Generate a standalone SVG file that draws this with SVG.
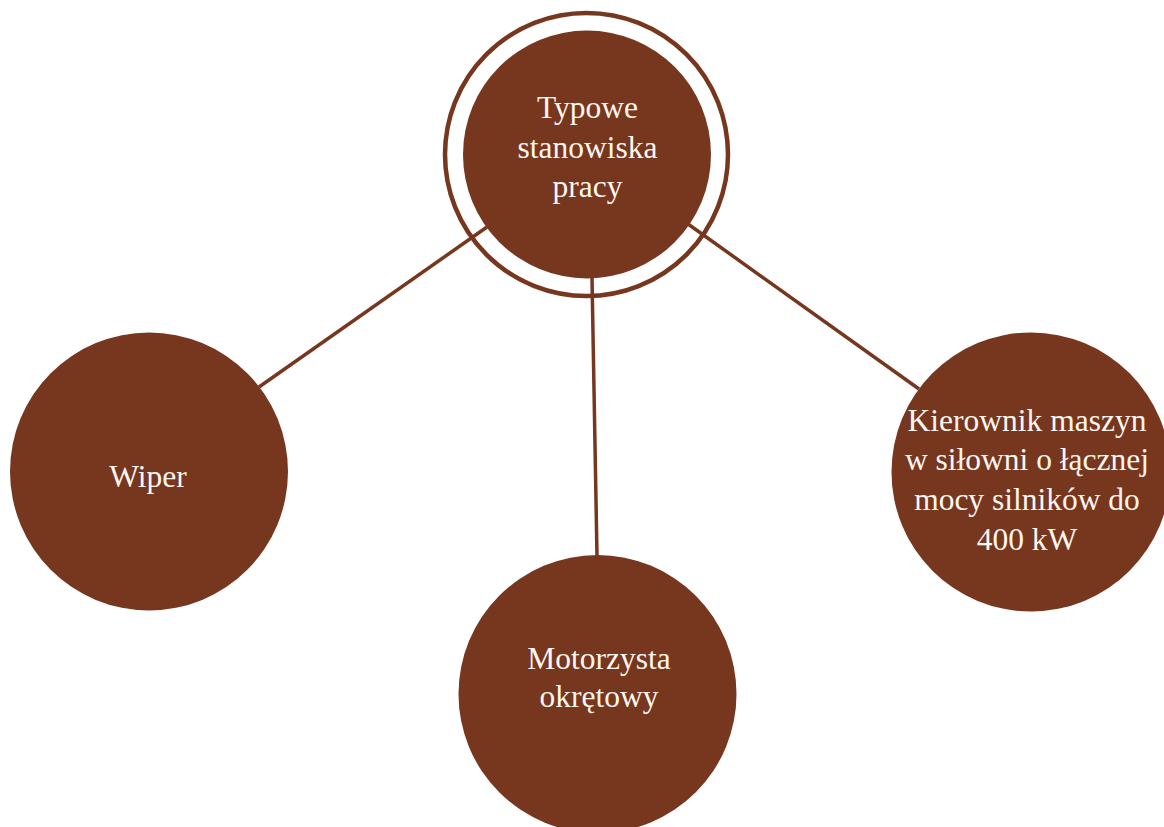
<svg xmlns="http://www.w3.org/2000/svg" width="1164" height="827" viewBox="0 0 1164 827">
<style>
.node{fill:#77361e}
.ring{fill:none;stroke:#77361e;stroke-width:4.5}
.conn{stroke:#77361e;stroke-width:3.5;fill:none}
text{font-family:"Liberation Serif","Times New Roman",serif;font-size:31.5px;fill:#fbf6f0;text-anchor:middle}
</style>
<rect width="1164" height="827" fill="#ffffff"/>
<g id="center">
<circle class="ring" cx="586.5" cy="154.5" r="141.5"/>
<circle class="node" cx="587" cy="154.5" r="124"/>
<text x="587.5" y="118">Typowe</text>
<text x="587.5" y="158">stanowiska</text>
<text x="587.5" y="197">pracy</text>
</g>
<g id="connectors">
<line class="conn" x1="487" y1="227" x2="259" y2="387"/>
<line class="conn" x1="592" y1="278" x2="597" y2="556"/>
<line class="conn" x1="688" y1="224" x2="919" y2="389"/>
</g>
<g id="wiper">
<circle class="node" cx="149" cy="471.5" r="139"/>
<text x="148" y="487">Wiper</text>
</g>
<g id="motorzysta">
<circle class="node" cx="597.5" cy="694" r="139"/>
<text x="599" y="669">Motorzysta</text>
<text x="599" y="707">okrętowy</text>
</g>
<g id="kierownik">
<circle class="node" cx="1031" cy="472" r="139.5"/>
<text x="1027" y="431">Kierownik maszyn</text>
<text x="1027" y="470">w siłowni o łącznej</text>
<text x="1027" y="510">mocy silników do</text>
<text x="1027" y="550">400 kW</text>
</g>
</svg>
